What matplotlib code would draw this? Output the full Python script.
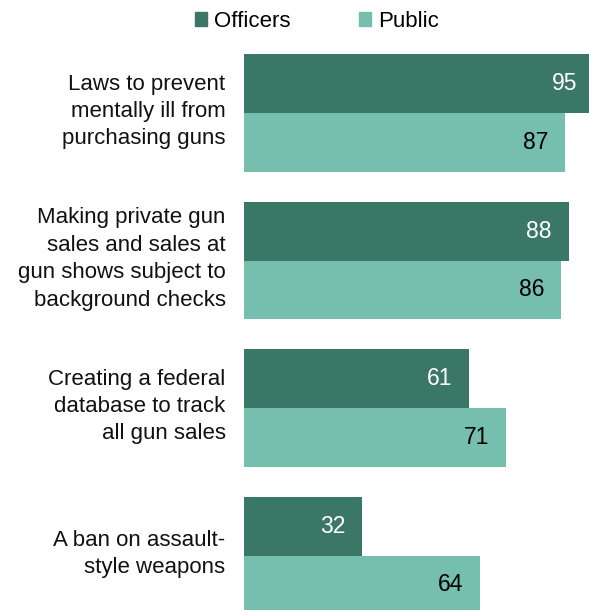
import matplotlib
matplotlib.use('Agg')
import matplotlib.pyplot as plt
from matplotlib.patches import Patch

categories = [
    'Laws to prevent\nmentally ill from\npurchasing guns',
    'Making private gun\nsales and sales at\ngun shows subject to\nbackground checks',
    'Creating a federal\ndatabase to track\nall gun sales',
    'A ban on assault-\nstyle weapons',
]
officers = [95, 88, 61, 32]
public = [87, 86, 71, 64]

DARK = '#3a7767'
LIGHT = '#76bfae'

plt.rcParams['font.family'] = ['Liberation Sans', 'DejaVu Sans']

fig = plt.figure(figsize=(5.89, 6.10), dpi=100)
ax = fig.add_axes([244 / 589, 0, 345 / 589, 1])

h = 0.397
ys = list(range(len(categories)))
ax.barh([y - h / 2 for y in ys], officers, height=h, color=DARK)
ax.barh([y + h / 2 for y in ys], public, height=h, color=LIGHT)

ax.set_xlim(0, 93.5)
ax.set_ylim(3.369, -0.766)

# valeurs dans les barres
off = 4.6
for y, v in zip(ys, officers):
    ax.text(v - off, y - h / 2, str(v), ha='right', va='center', color='white', fontsize=16.5)
for y, v in zip(ys, public):
    ax.text(v - off, y + h / 2, str(v), ha='right', va='center', color='black', fontsize=16.5)

for y, lab in zip(ys, categories):
    ax.text(-5.0, y - 0.01, lab, ha='right', va='center', fontsize=16,
            color='#111111', linespacing=1.4, multialignment='right')

for s in ax.spines.values():
    s.set_visible(False)
ax.set_xticks([])
ax.set_yticks([])

handles = [Patch(color=DARK, label='Officers'), Patch(color=LIGHT, label='Public')]
fig.legend(handles=handles, ncol=2, loc='upper center', bbox_to_anchor=(317 / 589, 1.015),
           frameon=False, fontsize=16, handlelength=0.55, handleheight=0.6,
           handletextpad=0.3, columnspacing=3.1)

fig.savefig('out.png', dpi=100)
